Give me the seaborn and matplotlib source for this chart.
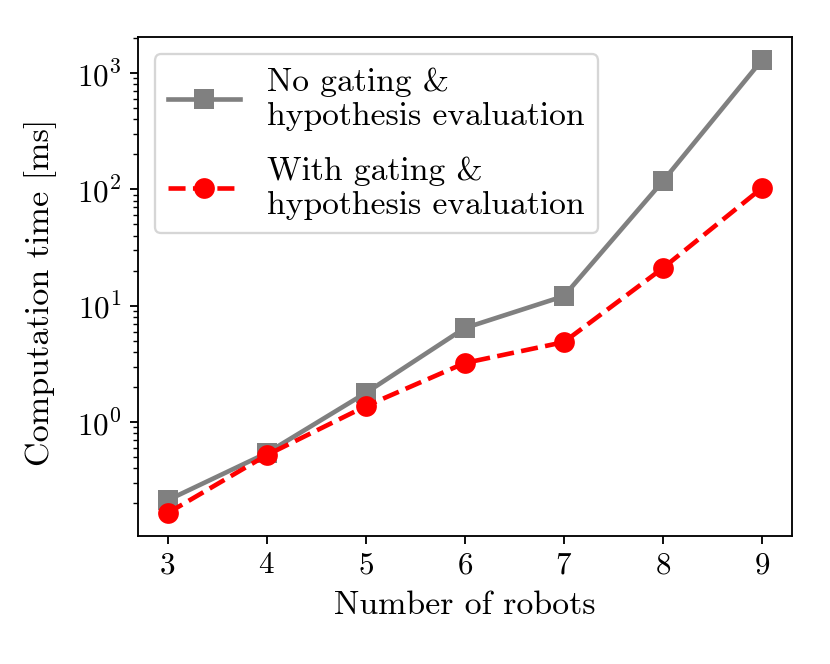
import numpy as np
import pandas as pd
import matplotlib
matplotlib.use('Agg')
import matplotlib.pyplot as plt
import seaborn as sns

robots = [3, 4, 5, 6, 7, 8, 9]
time_no_gating = [0.213, 0.541, 1.78, 6.43, 12.1, 118, 1297]
time_gating = [0.165, 0.52, 1.37, 3.22, 4.87, 21.1, 103]
labels = ['No gating &\nhypothesis evaluation',
          'With gating &\nhypothesis evaluation']

plt.rcParams['font.family'] = ['cmr10', 'DejaVu Serif']
plt.rcParams['mathtext.fontset'] = 'cm'
plt.rcParams['axes.formatter.use_mathtext'] = True
plt.rcParams['font.size'] = 14

fig, ax = plt.subplots(figsize=(5, 4), dpi=166)
fig.subplots_adjust(left=0.166, right=0.954, top=0.944, bottom=0.193)

sns.lineplot(x=robots, y=time_no_gating, ax=ax, color='gray', marker='s',
             linewidth=2, markersize=9, markeredgewidth=0, label=labels[0])
sns.lineplot(x=robots, y=time_gating, ax=ax, color='red', marker='o',
             linestyle='--', linewidth=2, markersize=9, markeredgewidth=0,
             label=labels[1])

ax.set_yscale('log')
ax.set_xticks(robots)
ax.set_xlabel('Number of robots', fontsize=14.7, labelpad=5)
ax.set_ylabel('Computation time [ms]', fontsize=14.8)
ax.yaxis.set_label_coords(-0.124, 0.489)
ax.tick_params(labelsize=13.5)
ax.legend(loc='upper left', fontsize=14.6, labelspacing=0.78,
          handlelength=2.15)

fig.savefig('out.png', dpi=166)
